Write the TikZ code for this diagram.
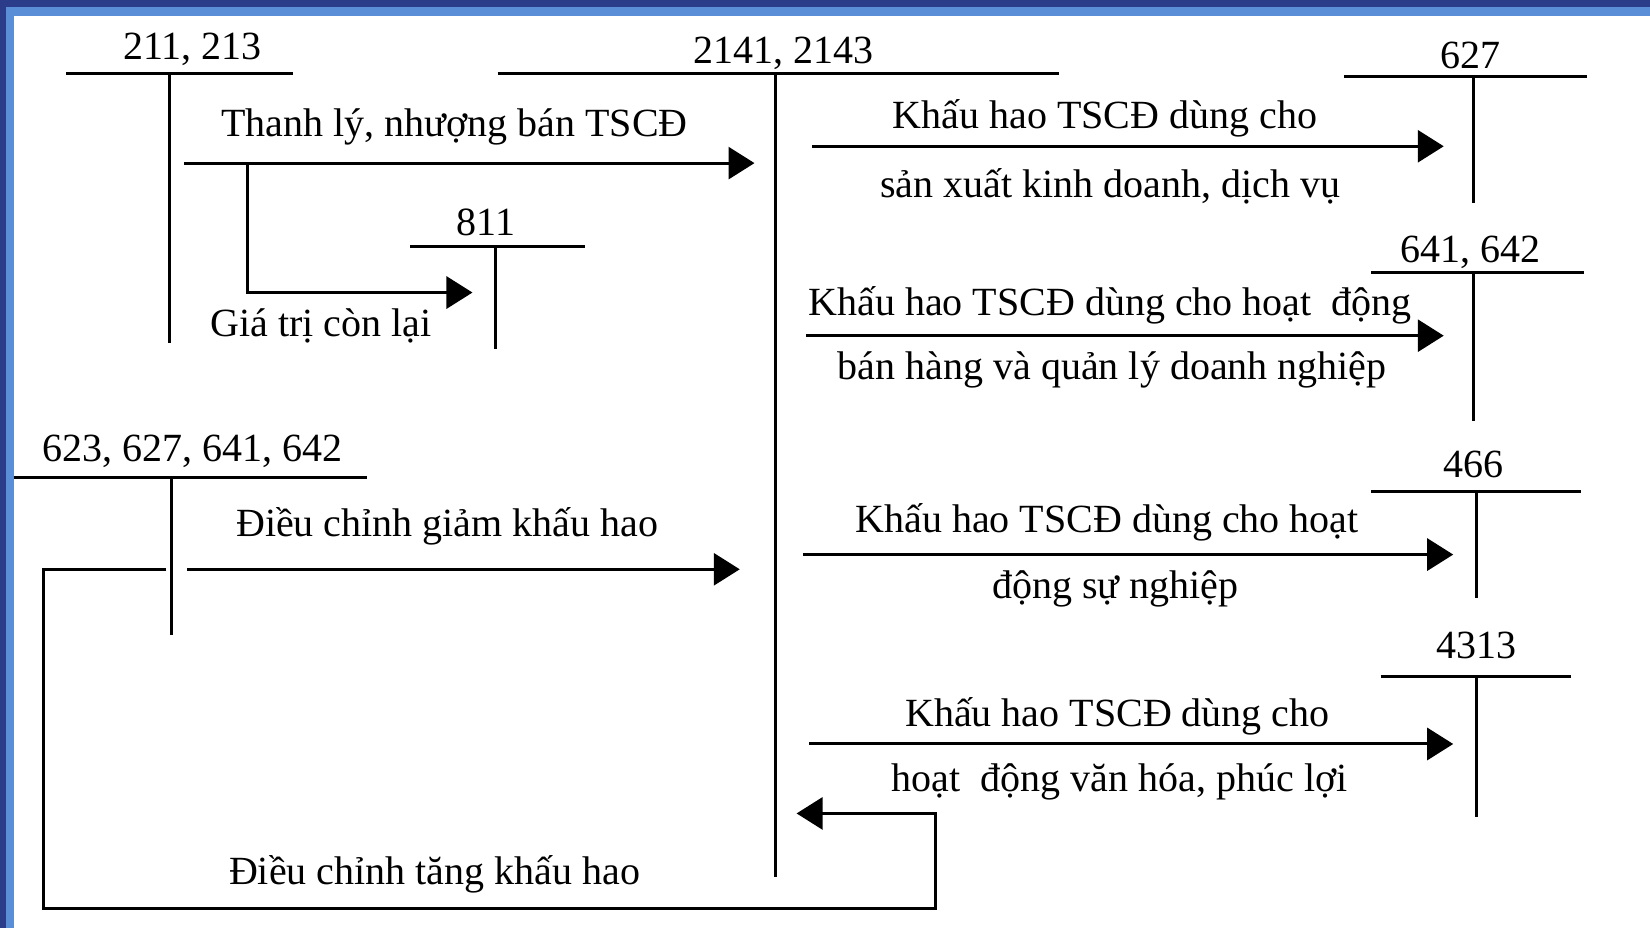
\documentclass[tikz,border=0pt]{standalone}
\usepackage{fontspec}
\setmainfont{Liberation Serif}
\usetikzlibrary{arrows.meta}
\definecolor{frameDark}{HTML}{2B3C8A}
\definecolor{frameLight}{HTML}{5A8ED6}
\begin{document}
\begin{tikzpicture}[x=1.0523pt,y=-1.0523pt,
  rule/.style={line width=3pt},
  lbl/.style={font=\fontsize{40}{44}\selectfont, anchor=base, inner sep=0pt},
  flow/.style={line width=3pt, -{Triangle[length=26pt,width=32pt]}},
  joint/.style={line width=3pt, line join=miter}]
% page and frame
\useasboundingbox (0,0) rectangle (1568,882);
\fill[white] (0,0) rectangle (1568,882);
\fill[frameLight] (0,0) rectangle (1568,15);
\fill[frameLight] (0,0) rectangle (13.3,882);
\fill[frameDark] (0,0) rectangle (1568,6.7);
\fill[frameDark] (0,0) rectangle (5.7,882);

% ---- T-accounts ----
% 211, 213
\node[lbl] (a211) at (183,57) {211, 213};
\coordinate (a211L) at (63,70); \coordinate (a211R) at (278,70);
\coordinate (a211T) at (161,70); \coordinate (a211B) at (161,326);
\draw[rule] (a211L) -- (a211R); \draw[rule] (a211T) -- (a211B);
% 2141, 2143
\node[lbl] (a214) at (745,60) {2141, 2143};
\coordinate (a214L) at (473,70); \coordinate (a214R) at (1006,70);
\coordinate (a214T) at (737,70); \coordinate (a214B) at (737,833);
\draw[rule] (a214L) -- (a214R); \draw[rule] (a214T) -- (a214B);
% 627
\node[lbl] (a627) at (1397,65) {627};
\coordinate (a627L) at (1277,73); \coordinate (a627R) at (1508,73);
\coordinate (a627T) at (1400,73); \coordinate (a627B) at (1400,193);
\draw[rule] (a627L) -- (a627R); \draw[rule] (a627T) -- (a627B);
% 641, 642
\node[lbl] (a641) at (1397,249) {641, 642};
\coordinate (a641L) at (1303,259); \coordinate (a641R) at (1505,259);
\coordinate (a641T) at (1400,259); \coordinate (a641B) at (1400,400);
\draw[rule] (a641L) -- (a641R); \draw[rule] (a641T) -- (a641B);
% 466
\node[lbl] (a466) at (1400,454) {466};
\coordinate (a466L) at (1303,467); \coordinate (a466R) at (1502,467);
\coordinate (a466T) at (1403,467); \coordinate (a466B) at (1403,568);
\draw[rule] (a466L) -- (a466R); \draw[rule] (a466T) -- (a466B);
% 4313
\node[lbl] (a4313) at (1403,626) {4313};
\coordinate (a4313L) at (1312,643); \coordinate (a4313R) at (1493,643);
\coordinate (a4313T) at (1403,643); \coordinate (a4313B) at (1403,776);
\draw[rule] (a4313L) -- (a4313R); \draw[rule] (a4313T) -- (a4313B);
% 811
\node[lbl] (a811) at (462,224) {811};
\coordinate (a811L) at (390,234); \coordinate (a811R) at (556,234);
\coordinate (a811T) at (471,234); \coordinate (a811B) at (471,332);
\draw[rule] (a811L) -- (a811R); \draw[rule] (a811T) -- (a811B);
% 623, 627, 641, 642
\node[lbl] (a623) at (183,439) {623, 627, 641, 642};
\coordinate (a623L) at (13,454); \coordinate (a623R) at (349,454);
\coordinate (a623T) at (163,454); \coordinate (a623B) at (163,603);
\draw[rule] (a623L) -- (a623R); \draw[rule] (a623T) -- (a623B);

% ---- entries ----
% disposal of fixed assets
\coordinate (sellS) at (175,155); \coordinate (sellE) at (717,155);
\draw[flow] (sellS) -- (sellE);
\node[lbl] (tSell) at (432,130) {Thanh lý, nhượng bán TSCĐ};
\coordinate (restS) at (235,155); \coordinate (restK) at (235,278); \coordinate (restE) at (449,278);
\draw[joint, -{Triangle[length=26pt,width=32pt]}] (restS) -- (restK) -- (restE);
\node[lbl] (tRest) at (305,320) {Giá trị còn lại};

% depreciation charged to expense accounts
\coordinate (d1S) at (772,139); \coordinate (d1E) at (1372,139);
\draw[flow] (d1S) -- (d1E);
\node[lbl] (t1a) at (1050,122) {Khấu hao TSCĐ dùng cho};
\node[lbl] (t1b) at (1055,188) {sản xuất kinh doanh, dịch vụ};

\coordinate (d2S) at (766,319); \coordinate (d2E) at (1372,319);
\draw[flow] (d2S) -- (d2E);
\node[lbl] (t2a) at (1055,300) {Khấu hao TSCĐ dùng cho hoạt\ \ động};
\node[lbl] (t2b) at (1057,361) {bán hàng và quản lý doanh nghiệp};

\coordinate (d3S) at (763,527); \coordinate (d3E) at (1381,527);
\draw[flow] (d3S) -- (d3E);
\node[lbl] (t3a) at (1052,506) {Khấu hao TSCĐ dùng cho hoạt};
\node[lbl] (t3b) at (1060,569) {động sự nghiệp};

\coordinate (d4S) at (769,707); \coordinate (d4E) at (1381,707);
\draw[flow] (d4S) -- (d4E);
\node[lbl] (t4a) at (1062,690) {Khấu hao TSCĐ dùng cho};
\node[lbl] (t4b) at (1064,752) {hoạt\ \ động văn hóa, phúc lợi};

% downward adjustment
\coordinate (decS) at (178,541); \coordinate (decE) at (703,541);
\draw[flow] (decS) -- (decE);
\node[lbl] (tDec) at (425,510) {Điều chỉnh giảm khấu hao};

% upward adjustment, routed round the bottom
\coordinate (incS) at (158,541); \coordinate (incK1) at (41,541);
\coordinate (incK2) at (41,863); \coordinate (incK3) at (889,863);
\coordinate (incK4) at (889,773); \coordinate (incE) at (757,773);
\draw[joint, -{Triangle[length=26pt,width=32pt]}]
  (incS) -- (incK1) -- (incK2) -- (incK3) -- (incK4) -- (incE);
\node[lbl] (tInc) at (413,841) {Điều chỉnh tăng khấu hao};
\end{tikzpicture}
\end{document}
